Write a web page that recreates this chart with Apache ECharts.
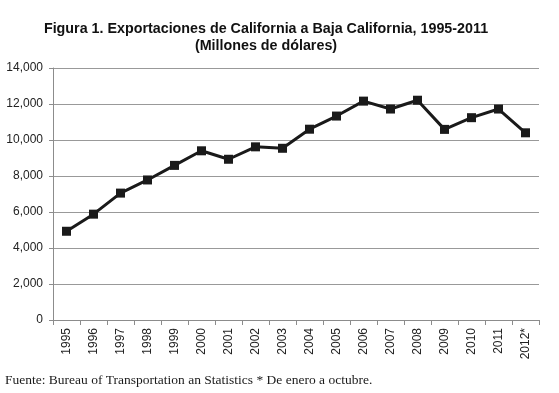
<!DOCTYPE html>
<html>
<head>
<meta charset="utf-8">
<script src="https://cdn.jsdelivr.net/npm/echarts@6/dist/echarts.min.js"></script>
<style>
html,body{margin:0;padding:0;background:#fff;}
#chart{width:559px;height:393px;}
</style>
</head>
<body>
<div id="chart"></div>
<script>
const titleLines = ['Figura 1. Exportaciones de California a Baja California, 1995-2011', '(Millones de dólares)'];
const footnote = 'Fuente: Bureau of Transportation an Statistics * De enero a octubre.';
const years = ['1995','1996','1997','1998','1999','2000','2001','2002','2003','2004','2005','2006','2007','2008','2009','2010','2011','2012*'];
const exports = [4930, 5880, 7050, 7780, 8590, 9400, 8930, 9620, 9540, 10600, 11330, 12160, 11720, 12210, 10590, 11240, 11720, 10400];
const yMin = 0, yMax = 14000, yStep = 2000;

const chart = echarts.init(document.getElementById('chart'), null, {renderer: 'canvas'});
chart.setOption({
  backgroundColor: '#ffffff',
  animation: false,
  title: {
    text: titleLines.join('\n'),
    left: 261,
    top: 16,
    textAlign: 'center',
    textStyle: {
      fontFamily: '"Liberation Sans Narrow", "Liberation Sans", Arial, sans-serif',
      fontWeight: 'bold',
      fontSize: 14.3,
      lineHeight: 17,
      color: '#111'
    }
  },
  graphic: [{
    type: 'text',
    left: 5,
    top: 373,
    style: {
      text: footnote,
      font: '13.5px "Liberation Serif", "Times New Roman", serif',
      fill: '#1a1a1a'
    }
  }],
  grid: {left: 53, right: 20, top: 68, bottom: 73, containLabel: false},
  xAxis: {
    type: 'category',
    data: years,
    boundaryGap: true,
    axisLine: {show: true, lineStyle: {color: '#8c8c8c', width: 1}},
    axisTick: {show: true, alignWithLabel: false, length: 5, lineStyle: {color: '#8c8c8c'}},
    axisLabel: {
      rotate: 90,
      interval: 0,
      margin: 8,
      fontFamily: '"Liberation Sans", Arial, sans-serif',
      fontSize: 12,
      color: '#222'
    },
    splitLine: {show: false}
  },
  yAxis: {
    type: 'value',
    min: yMin,
    max: yMax,
    interval: yStep,
    axisLine: {show: true, lineStyle: {color: '#8c8c8c', width: 1}},
    axisTick: {show: true, length: 4, lineStyle: {color: '#8c8c8c'}},
    axisLabel: {
      margin: 10,
      fontFamily: '"Liberation Sans Narrow", "Liberation Sans", Arial, sans-serif',
      fontSize: 12,
      color: '#222',
      formatter: v => v.toLocaleString('en-US')
    },
    splitLine: {show: true, lineStyle: {color: '#999999', width: 1}}
  },
  series: [{
    type: 'line',
    data: exports,
    symbol: 'rect',
    symbolSize: 9,
    itemStyle: {color: '#1a1a1a'},
    lineStyle: {color: '#1a1a1a', width: 3},
    z: 3
  }]
});
</script>
</body>
</html>
